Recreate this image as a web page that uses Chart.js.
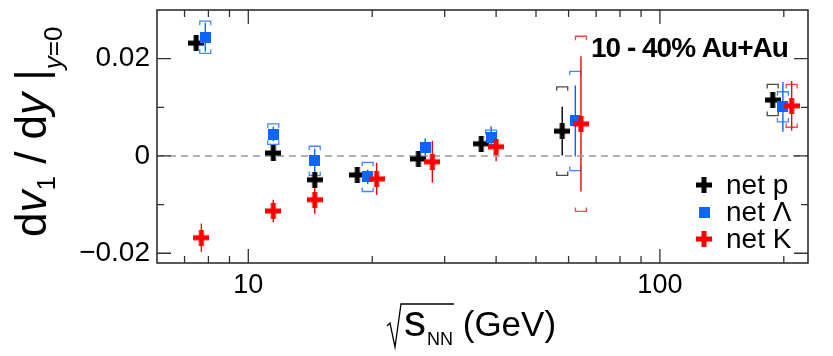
<!DOCTYPE html>
<html><head><meta charset="utf-8">
<script src="https://cdn.jsdelivr.net/npm/chart.js@4.4.1/dist/chart.umd.min.js"></script>
<style>html,body{margin:0;padding:0;background:#fff}canvas{display:block}</style>
</head><body>
<canvas id="c" width="833" height="356"></canvas>
<script>
// ---- data ----
const energyLabels = ['7.7', '11.5', '14.5', '19.6', '27', '39', '62.4', '200'];
// plotted x positions (GeV, with the small horizontal offsets of the figure)
const netPX = [7.47, 11.5, 14.5, 18.4, 25.9, 36.8, 57.9, 188];
const netLX = [7.86, 11.5, 14.5, 19.5, 26.9, 38.9, 62.3, 199];
const netKX = [7.69, 11.5, 14.5, 20.5, 28.0, 40.0, 64.3, 209];
// dv1/dy values
const netPY = [0.0232, 0.0006, -0.0049, -0.0039, -0.0006, 0.0025, 0.0051, 0.0115];
const netLY = [0.0244, 0.0045, -0.0010, -0.0043, 0.0018, 0.0038, 0.0072, 0.0101];
const netKY = [-0.0168, -0.0113, -0.0090, -0.0047, -0.0012, 0.0019, 0.0066, 0.0103];
// statistical errors
const netPStat = [0.0008, 0.0008, 0.0009, 0.0008, 0.0008, 0.0009, 0.0050, 0.0008];
const netLStat = [0.0030, 0.0015, 0.0025, 0.0015, 0.0018, 0.0023, 0.0073, 0.0051];
const netKStat = [0.0029, 0.0023, 0.0029, 0.0033, 0.0043, 0.0030, 0.0139, 0.0051];
// systematic errors (brackets)
const netPSyst = [0, 0, 0, 0, 0, 0, 0.0091, 0.0032];
const netLSyst = [0.0033, 0.0021, 0.0030, 0.0030, 0, 0.0015, 0.0102, 0.0031];
const netKSyst = [0, 0, 0, 0, 0, 0, 0.0180, 0.0044];
// axes
const xMin = 6, xMax = 229;
const yMin = -0.022, yMax = 0.03;
const xMajorTicks = [10, 100];
const xMajorLabels = ['10', '100'];
const xMinorTicks = [7, 8, 9, 20, 30, 40, 50, 60, 70, 80, 90, 200];
const yMajorTicks = [-0.02, 0, 0.02];
const yMajorLabels = ['\u22120.02', '0', '0.02'];
const yMinorTicks = [-0.01, 0.01];
const legendLabels = ['net p', 'net \u039B', 'net K'];
const titleText = '10 - 40% Au+Au';

// ---- styles ----
const FONT = '"Liberation Sans", Arial, Helvetica, sans-serif';
const BLACK = '#000000', BLUE = '#0a66ff', RED = '#ff0000';

function makePlus(color) {
  const s = 16, t = 5, c = document.createElement('canvas');
  c.width = s; c.height = s;
  const g = c.getContext('2d');
  g.fillStyle = color;
  const a = (s - t) / 2;
  g.fillRect(a, 0, t, s);
  g.fillRect(0, a, s, t);
  return c;
}
function makeSquare(color) {
  const s = 11, c = document.createElement('canvas');
  c.width = s; c.height = s;
  const g = c.getContext('2d');
  g.fillStyle = color;
  g.fillRect(0, 0, s, s);
  return c;
}
const plusBlack = makePlus(BLACK), plusRed = makePlus(RED), sqBlue = makeSquare(BLUE);

const series = [
  {x: netPX, y: netPY, stat: netPStat, syst: netPSyst, color: BLACK, sysColor: '#4a4a4a', marker: plusBlack},
  {x: netLX, y: netLY, stat: netLStat, syst: netLSyst, color: BLUE, sysColor: '#3f88ff', marker: sqBlue},
  {x: netKX, y: netKY, stat: netKStat, syst: netKSyst, color: RED, sysColor: '#ff4545', marker: plusRed}
];
const toPts = (xs, ys) => xs.map((v, i) => ({x: v, y: ys[i]}));

const deco = {
  id: 'deco',
  beforeDatasetsDraw(chart) {
    const {ctx, chartArea: a, scales: {x, y}} = chart;
    ctx.save();
    ctx.beginPath(); ctx.rect(a.left, a.top, a.right - a.left, a.bottom - a.top); ctx.clip();
    for (const s of series) {
      for (let i = 0; i < s.x.length; i++) {
        const px = x.getPixelForValue(s.x[i]);
        if (s.syst[i] > 0) {
          const top = y.getPixelForValue(s.y[i] + s.syst[i]);
          const bot = y.getPixelForValue(s.y[i] - s.syst[i]);
          const w = 5.5, leg = 4;
          ctx.strokeStyle = s.sysColor; ctx.lineWidth = 1.3;
          ctx.beginPath();
          ctx.moveTo(px - w, top + leg); ctx.lineTo(px - w, top); ctx.lineTo(px + w, top); ctx.lineTo(px + w, top + leg);
          ctx.moveTo(px - w, bot - leg); ctx.lineTo(px - w, bot); ctx.lineTo(px + w, bot); ctx.lineTo(px + w, bot - leg);
          ctx.stroke();
        }
        const t1 = y.getPixelForValue(s.y[i] + s.stat[i]);
        const b1 = y.getPixelForValue(s.y[i] - s.stat[i]);
        ctx.strokeStyle = s.color; ctx.lineWidth = 1.4;
        ctx.beginPath(); ctx.moveTo(px, t1); ctx.lineTo(px, b1); ctx.stroke();
      }
    }
    ctx.restore();
  },
  afterDraw(chart) {
    const {ctx, chartArea: a, scales: {x, y}} = chart;
    ctx.save();
    // frame
    ctx.strokeStyle = '#222'; ctx.lineWidth = 1.5;
    ctx.strokeRect(a.left, a.top, a.right - a.left, a.bottom - a.top);
    // ticks (inward, mirrored)
    ctx.strokeStyle = '#333'; ctx.lineWidth = 1.3;
    ctx.beginPath();
    const xt = (v, len) => {
      const p = x.getPixelForValue(v);
      ctx.moveTo(p, a.bottom); ctx.lineTo(p, a.bottom - len);
      ctx.moveTo(p, a.top); ctx.lineTo(p, a.top + len);
    };
    const yt = (v, len) => {
      const p = y.getPixelForValue(v);
      ctx.moveTo(a.left, p); ctx.lineTo(a.left + len, p);
      ctx.moveTo(a.right, p); ctx.lineTo(a.right - len, p);
    };
    xMajorTicks.forEach(v => xt(v, 14)); xMinorTicks.forEach(v => xt(v, 7));
    yMajorTicks.forEach(v => yt(v, 14)); yMinorTicks.forEach(v => yt(v, 7));
    ctx.stroke();

    ctx.fillStyle = '#000';
    // title
    ctx.font = 'bold 28px ' + FONT;
    ctx.letterSpacing = '-1px';
    ctx.textAlign = 'left'; ctx.textBaseline = 'alphabetic';
    ctx.fillText(titleText, 591, 57);
    ctx.letterSpacing = '0px';

    // legend
    const lx = 704, ly = [185, 212, 239];
    const mk = [plusBlack, sqBlue, plusRed];
    ctx.font = '28px ' + FONT; ctx.textBaseline = 'middle';
    for (let i = 0; i < 3; i++) {
      ctx.drawImage(mk[i], lx - mk[i].width / 2, ly[i] - mk[i].height / 2);
      ctx.fillText(legendLabels[i], 726, ly[i] + 1);
    }

    // y title
    ctx.textBaseline = 'alphabetic';
    ctx.save();
    ctx.translate(46, 237);
    ctx.rotate(-Math.PI / 2);
    const runs = [
      {t: 'd', f: '44px ' + FONT, dy: 0},
      {t: 'v', f: 'italic 44px ' + FONT, dy: 0},
      {t: '1', f: '26px ' + FONT, dy: 9},
      {t: ' / ', f: '44px ' + FONT, dy: 0},
      {t: 'd', f: '44px ' + FONT, dy: 0},
      {t: 'y', f: 'italic 44px ' + FONT, dy: 0},
      {t: ' |', f: '44px ' + FONT, dy: 0},
      {t: 'y', f: 'italic 26px ' + FONT, dy: 16},
      {t: '=0', f: '26px ' + FONT, dy: 16}
    ];
    let u = 0;
    for (const r of runs) { ctx.font = r.f; ctx.fillText(r.t, u, r.dy); u += ctx.measureText(r.t).width; }
    ctx.restore();

    // x title: sqrt(s_NN) (GeV)
    const bx = 336;
    ctx.strokeStyle = '#000'; ctx.lineWidth = 1.3;
    ctx.beginPath();
    ctx.moveTo(387, 326); ctx.lineTo(390, 323); ctx.lineTo(395, 347); ctx.lineTo(401, 304); ctx.lineTo(454, 304);
    ctx.stroke();
    let xx = 404;
    ctx.font = '44px ' + FONT; ctx.fillText('s', xx, bx); xx += ctx.measureText('s').width + 1;
    ctx.font = '18px ' + FONT; ctx.fillText('NN', xx, bx + 9); xx += ctx.measureText('NN').width;
    ctx.font = '35px ' + FONT; ctx.fillText(' (GeV)', xx, bx);
    ctx.restore();
  }
};

new Chart(document.getElementById('c'), {
  type: 'scatter',
  data: {
    datasets: [
      {label: legendLabels[0], data: toPts(netPX, netPY), pointStyle: plusBlack, pointRadius: 6, order: 3},
      {label: legendLabels[1], data: toPts(netLX, netLY), pointStyle: sqBlue, pointRadius: 6, order: 2},
      {label: legendLabels[2], data: toPts(netKX, netKY), pointStyle: plusRed, pointRadius: 6, order: 1},
      {type: 'line', label: 'zero', data: [{x: xMin, y: 0}, {x: xMax, y: 0}], borderColor: '#9a9a9a',
       borderWidth: 1.5, borderDash: [7, 5], pointRadius: 0, order: 10}
    ]
  },
  options: {
    responsive: false, animation: false, events: [],
    layout: {padding: {left: 0, top: 10, right: 25, bottom: 0}},
    plugins: {legend: {display: false}, tooltip: {enabled: false}},
    scales: {
      x: {
        type: 'logarithmic', min: xMin, max: xMax,
        afterBuildTicks: s => { s.ticks = xMajorTicks.map(v => ({value: v})); },
        afterFit: s => { s.height = 93; s.paddingLeft = 0; s.paddingRight = 0; },
        ticks: {autoSkip: false, maxRotation: 0, padding: 6, color: '#000',
          font: {family: FONT, size: 27},
          callback: (v) => { const k = xMajorTicks.indexOf(v); return k >= 0 ? xMajorLabels[k] : ''; }},
        grid: {display: false, drawTicks: false}, border: {display: false}
      },
      y: {
        type: 'linear', min: yMin, max: yMax,
        afterBuildTicks: s => { s.ticks = yMajorTicks.map(v => ({value: v})); },
        afterFit: s => { s.width = 157; s.paddingTop = 0; s.paddingBottom = 0; },
        ticks: {padding: 7, color: '#000', font: {family: FONT, size: 28},
          callback: (v) => { const k = yMajorTicks.findIndex(t => Math.abs(t - v) < 1e-9); return k >= 0 ? yMajorLabels[k] : ''; }},
        grid: {display: false, drawTicks: false}, border: {display: false}
      }
    }
  },
  plugins: [deco]
});
</script>
</body></html>
